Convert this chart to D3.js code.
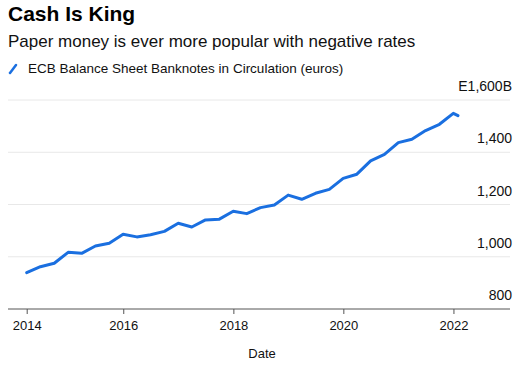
<!DOCTYPE html>
<html>
<head>
<meta charset="utf-8">
<script src="https://cdn.jsdelivr.net/npm/d3@7"></script>
<style>
  html, body { margin: 0; padding: 0; background: #fff; }
  svg { display: block; }
  text { font-family: "Liberation Sans", Arial, Helvetica, sans-serif; }
</style>
</head>
<body>
<svg id="chart" width="531" height="367"></svg>
<script>
const title = "Cash Is King";
const subtitle = "Paper money is ever more popular with negative rates";
const seriesName = "ECB Balance Sheet Banknotes in Circulation (euros)";
const xAxisTitle = "Date";

const dates = [
  "2014-03-31","2014-06-30","2014-09-30","2014-12-31",
  "2015-03-31","2015-06-30","2015-09-30","2015-12-31",
  "2016-03-31","2016-06-30","2016-09-30","2016-12-31",
  "2017-03-31","2017-06-30","2017-09-30","2017-12-31",
  "2018-03-31","2018-06-30","2018-09-30","2018-12-31",
  "2019-03-31","2019-06-30","2019-09-30","2019-12-31",
  "2020-03-31","2020-06-30","2020-09-30","2020-12-31",
  "2021-03-31","2021-06-30","2021-09-30","2021-12-31",
  "2022-01-31"
];
const values = [
  939, 962, 975, 1017,
  1013, 1041, 1052, 1086,
  1076, 1084, 1097, 1128,
  1114, 1141, 1144, 1174,
  1165, 1188, 1198, 1236,
  1220, 1243, 1258, 1300,
  1316, 1367, 1392, 1437,
  1450, 1483, 1507, 1549,
  1540
];
const yTicks = [800, 1000, 1200, 1400, 1600];
const yTickLabels = ["800", "1,000", "1,200", "1,400", "E1,600B"];
const xTickDates = ["2014-03-31", "2016-01-01", "2018-01-01", "2020-01-01", "2022-01-01"];
const xTickLabels = ["2014", "2016", "2018", "2020", "2022"];

const parse = d3.utcParse("%Y-%m-%d");
const data = dates.map((d, i) => ({ date: parse(d), value: values[i] }));

const svg = d3.select("#chart");
const gridLeft = 8, gridRight = 510;

const x = d3.scaleUtc()
  .domain([parse("2014-03-31"), parse("2021-12-31")])
  .range([26.7, 453.3]);
const y = d3.scaleLinear().domain([800, 1600]).range([309, 100]);

// Title & subtitle
svg.append("text").attr("x", 8).attr("y", 21)
  .attr("font-size", 21).attr("font-weight", "bold").attr("fill", "#000")
  .text(title);
svg.append("text").attr("x", 8).attr("y", 47)
  .attr("font-size", 17).attr("fill", "#111")
  .text(subtitle);

// Legend
svg.append("line").attr("x1", 10).attr("y1", 73).attr("x2", 16).attr("y2", 65)
  .attr("stroke", "#1a6fe0").attr("stroke-width", 2.5).attr("stroke-linecap", "round");
svg.append("text").attr("x", 28).attr("y", 73)
  .attr("font-size", 13.5).attr("fill", "#111")
  .text(seriesName);

// Gridlines
svg.append("g").selectAll("line")
  .data(yTicks.filter(t => t !== 800))
  .join("line")
  .attr("x1", gridLeft).attr("x2", gridRight)
  .attr("y1", d => y(d)).attr("y2", d => y(d))
  .attr("stroke", "#e8e8e8").attr("stroke-width", 1);

// Y labels
svg.append("g").selectAll("text")
  .data(yTicks)
  .join("text")
  .attr("x", 512).attr("y", d => y(d) - 9)
  .attr("text-anchor", "end")
  .attr("font-size", 14).attr("fill", "#111")
  .text((d, i) => yTickLabels[i]);

// X axis
const xAxis = d3.axisBottom(x)
  .tickValues(xTickDates.map(parse))
  .tickFormat((d, i) => xTickLabels[i])
  .tickSize(5).tickSizeOuter(0).tickPadding(7);
const gx = svg.append("g").attr("transform", "translate(0,309)").call(xAxis);
gx.select(".domain").remove();
gx.append("line").attr("x1", gridLeft).attr("x2", gridRight)
  .attr("y1", 0).attr("y2", 0).attr("stroke", "#555").attr("stroke-width", 1);
gx.selectAll(".tick line").attr("stroke", "#555");
gx.selectAll(".tick text").attr("font-size", 13).attr("fill", "#111")
  .attr("font-family", "'Liberation Sans', Arial, sans-serif");

svg.append("text").attr("x", 262).attr("y", 358)
  .attr("text-anchor", "middle").attr("font-size", 13).attr("fill", "#111")
  .text(xAxisTitle);

// Line
const line = d3.line().x(d => x(d.date)).y(d => y(d.value));
svg.append("path").datum(data)
  .attr("d", line)
  .attr("fill", "none")
  .attr("stroke", "#1a6fe0")
  .attr("stroke-width", 3)
  .attr("stroke-linejoin", "round")
  .attr("stroke-linecap", "round");
</script>
</body>
</html>
